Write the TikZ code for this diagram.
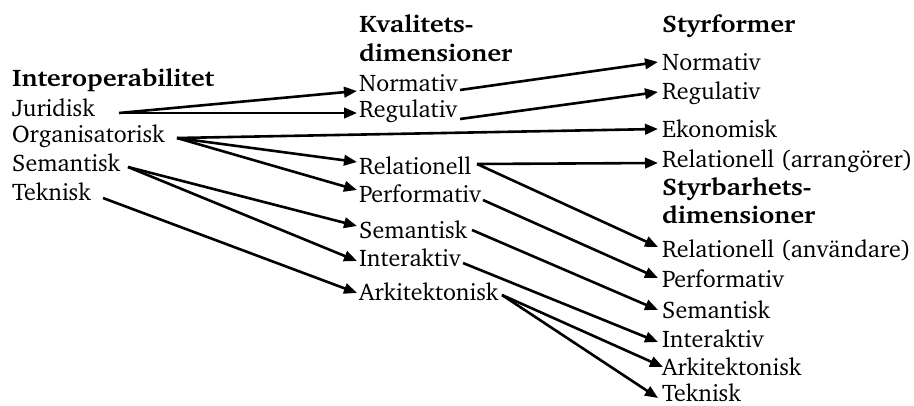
\documentclass[tikz,border=0pt]{standalone}
\usepackage[T1]{fontenc}
\usepackage{charter}
\usetikzlibrary{arrows.meta}

% headings are set in a slightly widened bold
\newcommand\wideBold[1]{\scalebox{1.1}[1]{#1}}

\tikzset{
  lbl/.style={anchor=base west, inner sep=0pt, font=\fontsize{24}{28}\selectfont},
  hdr/.style={lbl, font=\fontsize{24}{28}\selectfont\bfseries},
  arr/.style={line width=2.6pt, -{Triangle[length=13pt,width=10.5pt]}},
}

\begin{document}
\begin{tikzpicture}[x=1pt, y=-1pt]
\useasboundingbox (0,0) rectangle (914,406);

% left column: interoperability
\node[hdr] (aH) at (12,87)  {\wideBold{Interoperabilitet}};
\node[lbl] (aJ) at (12,117) {Juridisk};
\node[lbl] (aO) at (12,143) {Organisatorisk};
\node[lbl] (aS) at (12,172) {Semantisk};
\node[lbl] (aT) at (12,201) {Teknisk};

% middle column: quality dimensions
\node[hdr] (bH1) at (359,33)  {\wideBold{Kvalitets-}};
\node[hdr] (bH2) at (359,62)  {\wideBold{dimensioner}};
\node[lbl] (bN)  at (359,92)  {Normativ};
\node[lbl] (bR)  at (359,118) {Regulativ};
\node[lbl] (bRe) at (359,175) {Relationell};
\node[lbl] (bP)  at (359,203) {Performativ};
\node[lbl] (bS)  at (359,239) {Semantisk};
\node[lbl] (bI)  at (359,267) {Interaktiv};
\node[lbl] (bA)  at (359,301) {Arkitektonisk};

% right column: forms of governance and governability dimensions
\node[hdr] (cH)   at (662,33)  {\wideBold{Styrformer}};
\node[lbl] (cN)   at (662,71)  {Normativ};
\node[lbl] (cR)   at (662,100) {Regulativ};
\node[lbl] (cE)   at (662,138) {Ekonomisk};
\node[lbl] (cRa)  at (662,168) {Relationell (arrang\"orer)};
\node[hdr] (cG1)  at (662,196) {\wideBold{Styrbarhets-}};
\node[hdr] (cG2)  at (662,224) {\wideBold{dimensioner}};
\node[lbl] (cRu)  at (662,258) {Relationell (anv\"andare)};
\node[lbl] (cP)   at (662,288) {Performativ};
\node[lbl] (cS)   at (662,319) {Semantisk};
\node[lbl] (cI)   at (662,348) {Interaktiv};
\node[lbl] (cA)   at (662,376) {Arkitektonisk};
\node[lbl] (cT)   at (662,402) {Teknisk};

% left -> middle (and one straight to the right column)
\draw[arr] ([shift={(107,-4)}]aJ.base west) -- ([shift={(-2,-1)}]bN.base west);
\draw[arr] ([shift={(107,-4)}]aJ.base west) -- ([shift={(-2,-5)}]bR.base west);
\draw[arr] ([shift={(165,-5)}]aO.base west) -- ([shift={(-4,-9)}]cE.base west);
\draw[arr] ([shift={(165,-5)}]aO.base west) -- ([shift={(-2,-13)}]bRe.base west);
\draw[arr] ([shift={(165,-5)}]aO.base west) -- ([shift={(-2,-13)}]bP.base west);
\draw[arr] ([shift={(116,-5)}]aS.base west) -- ([shift={(-2,-13)}]bS.base west);
\draw[arr] ([shift={(116,-5)}]aS.base west) -- ([shift={(-2,-6)}]bI.base west);
\draw[arr] ([shift={(91,-3)}]aT.base west)  -- ([shift={(-2,-8)}]bA.base west);

% middle -> right
\draw[arr] ([shift={(101,-2)}]bN.base west)  -- ([shift={(-4,-9)}]cN.base west);
\draw[arr] ([shift={(101,1)}]bR.base west)   -- ([shift={(-4,-8)}]cR.base west);
\draw[arr] ([shift={(118,-11)}]bRe.base west) -- ([shift={(-4,-5)}]cRa.base west);
\draw[arr] ([shift={(118,-11)}]bRe.base west) -- ([shift={(-4,-11)}]cRu.base west);
\draw[arr] ([shift={(124,-3)}]bP.base west)  -- ([shift={(-4,-10)}]cP.base west);
\draw[arr] ([shift={(113,-9)}]bS.base west)  -- ([shift={(-4,-9)}]cS.base west);
\draw[arr] ([shift={(104,-4)}]bI.base west)  -- ([shift={(-4,-6)}]cI.base west);
\draw[arr] ([shift={(143,-6)}]bA.base west)  -- ([shift={(1,-9)}]cA.base west);
\draw[arr] ([shift={(143,-6)}]bA.base west)  -- ([shift={(-4,-4)}]cT.base west);
\end{tikzpicture}
\end{document}
